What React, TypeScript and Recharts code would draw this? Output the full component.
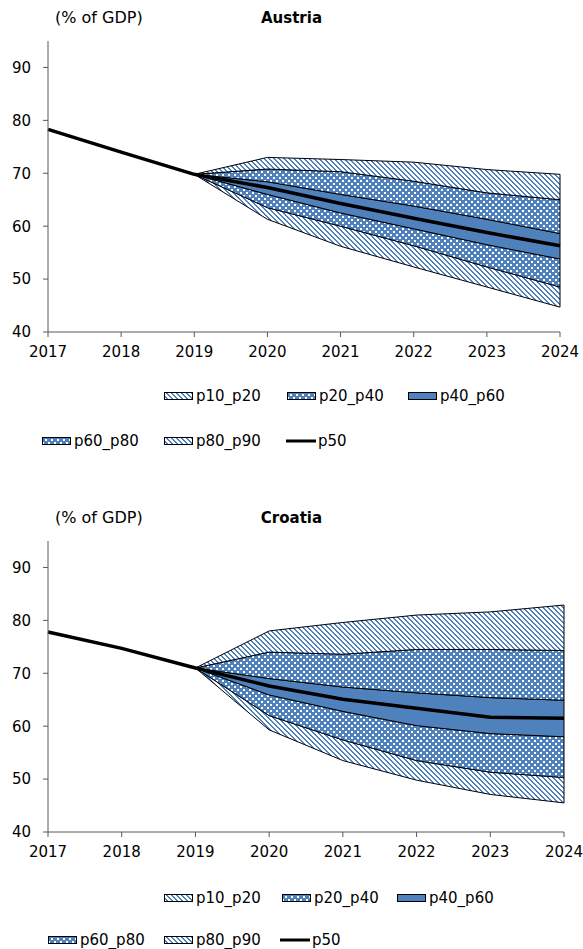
import React from 'react';
import { ComposedChart, Area, Line, XAxis, YAxis, ReferenceLine } from 'recharts';

const years = [2017, 2018, 2019, 2020, 2021, 2022, 2023, 2024];
const yTicks = [40, 50, 60, 70, 80, 90];

const austriaP50 = [78.3, 74.0, 69.8, 67.3, 64.3, 61.5, 58.8, 56.3];
const austriaP10 = [null, null, 69.8, 61.3, 56.2, 52.3, 48.5, 44.7];
const austriaP20 = [null, null, 69.8, 63.5, 60.0, 56.3, 52.3, 48.5];
const austriaP40 = [null, null, 69.8, 66.0, 62.5, 59.5, 56.5, 53.8];
const austriaP60 = [null, null, 69.8, 68.4, 66.0, 63.8, 61.3, 58.6];
const austriaP80 = [null, null, 69.8, 70.8, 70.3, 68.5, 66.3, 65.0];
const austriaP90 = [null, null, 69.8, 73.0, 72.6, 72.1, 70.7, 69.8];

const croatiaP50 = [77.8, 74.7, 71.0, 67.6, 65.1, 63.4, 61.7, 61.5];
const croatiaP10 = [null, null, 71.0, 59.3, 53.5, 49.8, 47.1, 45.5];
const croatiaP20 = [null, null, 71.0, 62.0, 57.4, 53.5, 51.3, 50.3];
const croatiaP40 = [null, null, 71.0, 65.9, 62.8, 60.1, 58.6, 58.0];
const croatiaP60 = [null, null, 71.0, 69.0, 67.4, 66.3, 65.4, 64.9];
const croatiaP80 = [null, null, 71.0, 74.0, 73.6, 74.5, 74.5, 74.3];
const croatiaP90 = [null, null, 71.0, 78.0, 79.6, 81.0, 81.6, 82.9];

const BLUE = '#4F81BD';
const AXIS = '#595959';
const FONT = '"DejaVu Sans", Verdana, sans-serif';

type Row = { year: number; p10: number | null; p20: number | null; p40: number | null; p50: number; p60: number | null; p80: number | null; p90: number | null };

function buildRows(p10: (number | null)[], p20: (number | null)[], p40: (number | null)[], p50: number[], p60: (number | null)[], p80: (number | null)[], p90: (number | null)[]): Row[] {
  return years.map((year, i) => ({ year, p10: p10[i], p20: p20[i], p40: p40[i], p50: p50[i], p60: p60[i], p80: p80[i], p90: p90[i] }));
}

const austriaRows = buildRows(austriaP10, austriaP20, austriaP40, austriaP50, austriaP60, austriaP80, austriaP90);
const croatiaRows = buildRows(croatiaP10, croatiaP20, croatiaP40, croatiaP50, croatiaP60, croatiaP80, croatiaP90);

function band(lo: keyof Row, hi: keyof Row) {
  return (d: Row) => (d[lo] == null || d[hi] == null ? null : [d[lo], d[hi]]);
}

const diagCells = [0, 1, 2, 3, 4];

function PatternDefs({ prefix }: { prefix: string }) {
  return (
    <defs>
      <pattern id={`${prefix}-diag`} patternUnits="userSpaceOnUse" width="5" height="5">
        <rect width="5" height="5" fill="#fff" />
        {diagCells.map((i) => (
          <rect key={i} x={i} y={i} width={i === 4 ? 1 : 2} height={1} fill={BLUE} />
        ))}
        <rect x={0} y={4} width={1} height={1} fill={BLUE} />
      </pattern>
      <pattern id={`${prefix}-check`} patternUnits="userSpaceOnUse" width="6" height="6">
        <rect width="6" height="6" fill={BLUE} />
        <rect x="0" y="0" width="2" height="2" fill="#fff" />
        <rect x="3" y="3" width="2" height="2" fill="#fff" />
      </pattern>
    </defs>
  );
}

function Panel({ rows, title, prefix, top, right }: { rows: Row[]; title: string; prefix: string; top: number; right: number }) {
  const last = rows[rows.length - 1];
  return (
    <div style={{ position: 'absolute', left: 0, top, width: 583, height: 400 }}>
      <div style={{ position: 'absolute', left: 55, top: 8, fontFamily: FONT, fontSize: 16, color: '#000' }}>(% of GDP)</div>
      <div style={{ position: 'absolute', left: 0, width: 583, top: 9, textAlign: 'center', fontFamily: FONT, fontSize: 15, fontWeight: 'bold', color: '#000' }}>{title}</div>
      <ComposedChart width={583} height={400} data={rows} margin={{ top: 41, right, bottom: 38, left: 0 }}>
        <PatternDefs prefix={prefix} />
        <XAxis
          dataKey="year"
          type="number"
          domain={[2017, 2024]}
          ticks={years}
          allowDecimals={false}
          stroke={AXIS}
          tickLine={{ stroke: AXIS }}
          tickSize={5}
          tickMargin={9}
          height={30}
          tick={{ fill: '#000', fontSize: 15, fontFamily: FONT }}
          interval={0}
        />
        <YAxis
          type="number"
          domain={[40, 95]}
          ticks={yTicks}
          stroke={AXIS}
          tickLine={{ stroke: AXIS }}
          tickSize={5}
          tickMargin={12}
          width={48}
          tick={{ fill: '#000', fontSize: 15, fontFamily: FONT }}
          interval={0}
        />
        <Area dataKey={band('p10', 'p20')} name="p10_p20" fill={`url(#${prefix}-diag)`} fillOpacity={1} stroke="#000" strokeWidth={1} isAnimationActive={false} dot={false} activeDot={false} />
        <Area dataKey={band('p20', 'p40')} name="p20_p40" fill={`url(#${prefix}-check)`} fillOpacity={1} stroke="#000" strokeWidth={1} isAnimationActive={false} dot={false} activeDot={false} />
        <Area dataKey={band('p40', 'p60')} name="p40_p60" fill={BLUE} fillOpacity={1} stroke="#000" strokeWidth={1} isAnimationActive={false} dot={false} activeDot={false} />
        <Area dataKey={band('p60', 'p80')} name="p60_p80" fill={`url(#${prefix}-check)`} fillOpacity={1} stroke="#000" strokeWidth={1} isAnimationActive={false} dot={false} activeDot={false} />
        <Area dataKey={band('p80', 'p90')} name="p80_p90" fill={`url(#${prefix}-diag)`} fillOpacity={1} stroke="#000" strokeWidth={1} isAnimationActive={false} dot={false} activeDot={false} />
        <ReferenceLine segment={[{ x: last.year, y: last.p10 as number }, { x: last.year, y: last.p90 as number }]} stroke="#000" strokeWidth={1} />
        <Line dataKey="p50" name="p50" stroke="#000" strokeWidth={3.5} dot={false} activeDot={false} isAnimationActive={false} />
      </ComposedChart>
    </div>
  );
}

const legendRow1 = ['p10_p20', 'p20_p40', 'p40_p60'];
const legendRow2 = ['p60_p80', 'p80_p90', 'p50'];
const legendFill: Record<string, string> = {
  p10_p20: 'diag',
  p20_p40: 'check',
  p40_p60: 'solid',
  p60_p80: 'check',
  p80_p90: 'diag',
  p50: 'line',
};

function Swatch({ kind, prefix }: { kind: string; prefix: string }) {
  if (kind === 'line') {
    return (
      <svg width={30} height={10} style={{ display: 'block' }}>
        <line x1={0} y1={5} x2={30} y2={5} stroke="#000" strokeWidth={3} />
      </svg>
    );
  }
  const fill = kind === 'solid' ? BLUE : `url(#${prefix}-${kind})`;
  return (
    <svg width={30} height={10} style={{ display: 'block' }}>
      <PatternDefs prefix={prefix} />
      <rect x={0.5} y={1.5} width={28} height={7} fill={fill} stroke="#000" strokeWidth={1} />
    </svg>
  );
}

function LegendBlock({ top, gap, row1X, row2X, prefix }: { top: number; gap: number; row1X: number[]; row2X: number[]; prefix: string }) {
  const item = (name: string, x: number, y: number) => (
    <div key={name} style={{ position: 'absolute', left: x, top: y, display: 'flex', alignItems: 'center', fontFamily: FONT, fontSize: 15, lineHeight: '16px', color: '#000', whiteSpace: 'nowrap', height: 16 }}>
      <Swatch kind={legendFill[name]} prefix={prefix} />
      <span style={{ marginLeft: 2 }}>{name}</span>
    </div>
  );
  return (
    <div style={{ position: 'absolute', left: 0, top, width: 583, height: 62 }}>
      {legendRow1.map((n, i) => item(n, row1X[i], 0))}
      {legendRow2.map((n, i) => item(n, row2X[i], gap))}
    </div>
  );
}

export default function App() {
  return (
    <div style={{ position: 'absolute', left: 0, top: 0, width: 583, height: 949, background: '#fff', overflow: 'hidden' }}>
      <Panel rows={austriaRows} title="Austria" prefix="at" top={0} right={23} />
      <LegendBlock top={388} gap={45} row1X={[164, 287, 408]} row2X={[42, 164, 286]} prefix="atl" />
      <Panel rows={croatiaRows} title="Croatia" prefix="hr" top={500} right={19} />
      <LegendBlock top={890} gap={42} row1X={[164, 282, 397]} row2X={[48, 164, 280]} prefix="hrl" />
    </div>
  );
}
